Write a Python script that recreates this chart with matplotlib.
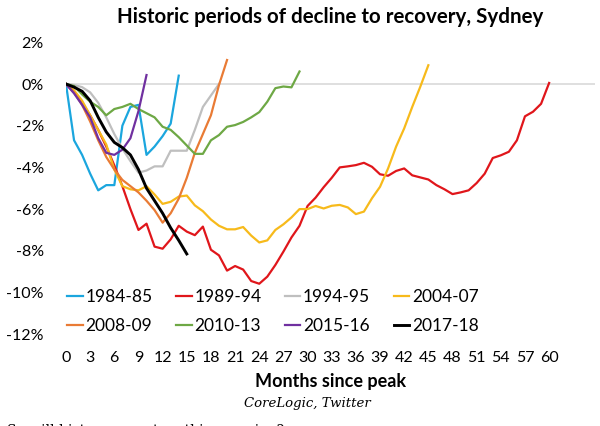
import matplotlib

matplotlib.use("Agg")
import matplotlib.pyplot as plt

# Variacion acumulada (%) desde el pico, un valor por mes
s_1984_85 = [0, -2.7, -3.4, -4.3, -5.1, -4.85, -4.85, -2.0, -1.1, -1.0, -3.4, -3.0, -2.5, -1.9, 0.4]
s_1989_94 = [0, -0.4, -0.9, -1.5, -2.2, -3.0, -3.9, -4.9, -6.0, -7.0, -6.7, -7.8, -7.9, -7.45, -6.8,
             -7.08, -7.25, -6.84, -7.95, -8.22, -8.95, -8.73, -8.9, -9.45, -9.58, -9.24, -8.68, -8.04,
             -7.36, -6.8, -5.85, -5.45, -4.95, -4.5, -4.0, -3.95, -3.89, -3.78, -3.97, -4.33, -4.4,
             -4.17, -4.05, -4.38, -4.48, -4.58, -4.85, -5.05, -5.28, -5.2, -5.1, -4.75, -4.3, -3.55,
             -3.42, -3.25, -2.7, -1.55, -1.33, -0.95, 0.05]
s_1994_95 = [0, -0.05, -0.15, -0.4, -0.9, -1.6, -2.4, -3.1, -3.7, -4.25, -4.15, -3.95, -3.95, -3.2,
             -3.2, -3.2, -2.2, -1.1, -0.55, 0.0]
s_2004_07 = [0, -0.3, -0.8, -1.5, -2.2, -2.9, -4.1, -4.9, -5.05, -5.1, -4.9, -5.3, -5.75, -5.65, -5.4,
             -5.35, -5.82, -6.1, -6.5, -6.8, -6.97, -6.97, -6.86, -7.27, -7.6, -7.5, -7.0, -6.73, -6.4,
             -6.0, -6.0, -5.85, -5.97, -5.84, -5.8, -5.92, -6.24, -6.12, -5.48, -4.93, -4.05, -3.0,
             -2.13, -1.1, -0.13, 0.9]
s_2008_09 = [0, -0.4, -1.0, -1.8, -2.7, -3.5, -4.1, -4.6, -4.9, -5.2, -5.6, -6.05, -6.65, -6.2, -5.5,
             -4.5, -3.3, -2.4, -1.5, -0.05, 1.15]
s_2010_13 = [0, -0.1, -0.5, -0.85, -1.1, -1.5, -1.2, -1.1, -0.95, -1.2, -1.4, -1.6, -2.05, -2.2,
             -2.55, -2.95, -3.35, -3.35, -2.7, -2.45, -2.05, -1.97, -1.82, -1.6, -1.35, -0.85, -0.2,
             -0.12, -0.16, 0.6]
s_2015_16 = [0, -0.45, -1.0, -1.6, -2.6, -3.3, -3.4, -3.15, -2.6, -1.3, 0.43]
s_2017_18 = [0, -0.15, -0.35, -0.8, -1.6, -2.3, -2.8, -3.05, -3.4, -4.1, -5.0, -5.6, -6.2, -6.9,
             -7.5, -8.15]

labels = ["1984-85", "1989-94", "1994-95", "2004-07", "2008-09", "2010-13", "2015-16", "2017-18"]
series = [s_1984_85, s_1989_94, s_1994_95, s_2004_07, s_2008_09, s_2010_13, s_2015_16, s_2017_18]
colors = ["#1BA6DE", "#E0161B", "#BFBFBF", "#F7BA1B", "#E97B35", "#6EA845", "#7030A0", "#000000"]
widths = [1.6, 1.6, 1.6, 1.6, 1.6, 1.6, 1.6, 2.1]

x_ticks = list(range(0, 61, 3))
y_ticks = [2, 0, -2, -4, -6, -8, -10, -12]

plt.rcParams["font.family"] = ["Lato", "DejaVu Sans"]

fig = plt.figure(figsize=(6, 4.26), dpi=100)
ax = fig.add_axes([0.11, 0.2155, 0.8817, 0.6852])

ax.axhline(0, color="#D9D9D9", lw=1.2, zorder=1)
lines = {}
for lab, s, c, w in zip(labels, series, colors, widths):
    (ln,) = ax.plot(range(len(s)), s, color=c, lw=w, label=lab, zorder=3)
    lines[lab] = ln

ax.set_xlim(0, 65.7)
ax.set_ylim(-12, 2)
ax.set_xticks(x_ticks)
ax.set_yticks(y_ticks)
ax.set_yticklabels([f"{v}%" for v in y_ticks])
ax.tick_params(axis="both", length=0, labelsize=11.5)
ax.tick_params(axis="x", pad=12)
ax.tick_params(axis="y", pad=16)
for sp in ax.spines.values():
    sp.set_visible(False)

ax.set_title("Historic periods of decline to recovery, Sydney", fontsize=14.8,
             fontweight="bold", pad=14)
ax.set_xlabel("Months since peak", fontsize=13, fontweight="bold", labelpad=6)

# leyenda: 4 columnas, se llena por columna
order = ["1984-85", "2008-09", "1989-94", "2010-13", "1994-95", "2015-16", "2004-07", "2017-18"]
ax.legend([lines[k] for k in order], order, ncol=4, loc="lower left",
          bbox_to_anchor=(-0.014, -0.028), frameon=False, fontsize=12.5, borderpad=0,
          handlelength=0.9, handletextpad=0.15, columnspacing=1.35, labelspacing=0.75)

fig.text(0.512, 0.052, "CoreLogic, Twitter", ha="center", va="center",
         fontsize=9.5, style="italic", family=["DejaVu Serif"])
fig.text(0.012, -0.012, "So will history repeat on this occasion?", ha="left", va="center",
         fontsize=10, family=["DejaVu Serif"])

fig.savefig("out.png", dpi=100)
